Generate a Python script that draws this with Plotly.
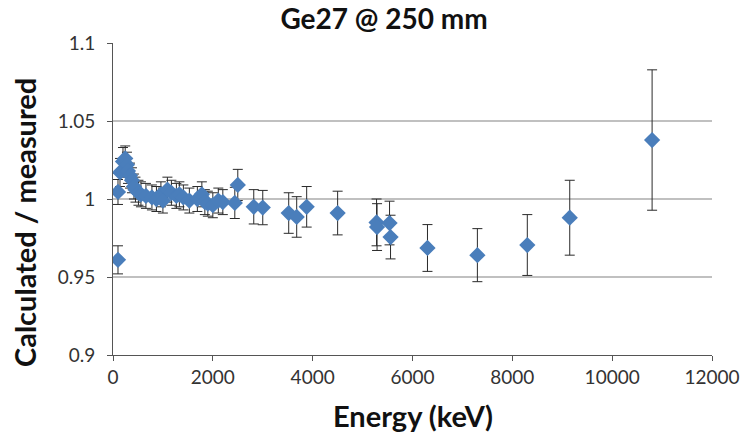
import plotly.graph_objects as go

energy_kev = [100, 100, 140, 200, 245, 280, 300, 340, 380, 420, 450, 510, 560, 660,
              780, 870, 960, 1000, 1090, 1170, 1270, 1330, 1410, 1530, 1690, 1780,
              1840, 1900, 2000, 2110, 2200, 2440, 2500, 2820, 3000, 3520, 3680, 3880,
              4500, 5280, 5290, 5540, 5560, 6300, 7300, 8300, 9150, 10800]
ratio = [0.961, 1.0045, 1.017, 1.024, 1.026, 1.022, 1.018, 1.015, 1.012, 1.008, 1.006,
         1.004, 1.003, 1.002, 1.001, 1.000, 1.003, 0.999, 1.006, 1.004, 1.002, 1.003,
         1.001, 0.999, 1.000, 1.003, 0.998, 0.997, 0.996, 0.999, 0.998, 0.9975, 1.009,
         0.995, 0.9945, 0.991, 0.9885, 0.995, 0.991, 0.985, 0.982, 0.9846, 0.9756,
         0.9686, 0.964, 0.9705, 0.988, 1.0378]
ratio_err = [0.009, 0.008, 0.009, 0.009, 0.008, 0.008, 0.008, 0.008, 0.008, 0.008, 0.008,
             0.008, 0.008, 0.008, 0.008, 0.008, 0.008, 0.008, 0.008, 0.008, 0.008, 0.008,
             0.008, 0.008, 0.008, 0.008, 0.008, 0.008, 0.008, 0.008, 0.008, 0.010, 0.010,
             0.011, 0.011, 0.013, 0.013, 0.013, 0.014, 0.015, 0.015, 0.014, 0.014,
             0.015, 0.017, 0.0195, 0.024, 0.045]

x_ticks = [0, 2000, 4000, 6000, 8000, 10000, 12000]
x_tick_text = ["0", "2000", "4000", "6000", "8000", "10000", "12000"]
y_ticks = [0.9, 0.95, 1.0, 1.05, 1.1]
y_tick_text = ["0.9", "0.95", "1", "1.05", "1.1"]

W, H = 746, 437
fig = go.Figure()
fig.add_trace(go.Scatter(
    x=energy_kev, y=ratio, mode="markers",
    marker=dict(symbol="diamond", size=12.5, color="#4a7ebb", line=dict(width=0)),
    error_y=dict(type="data", array=ratio_err, visible=True, color="#2a2a2a",
                 thickness=1, width=5),
    showlegend=False,
))

font_family = "Lato, 'Open Sans', sans-serif"
fig.update_layout(
    width=W, height=H,
    margin=dict(l=113, r=34, t=43, b=82),
    paper_bgcolor="white", plot_bgcolor="white",
    title=dict(text="<b>Ge27 @ 250 mm</b>", x=384 / W, xanchor="center",
               y=1 - 19 / H, yanchor="middle",
               font=dict(family=font_family, size=28, color="#111111")),
    font=dict(family=font_family, color="#333333"),
    xaxis=dict(range=[0, 12000], tickvals=x_ticks, ticktext=x_tick_text, showgrid=False,
               showline=True, linecolor="#555555", linewidth=1,
               ticks="outside", ticklen=5, tickcolor="#555555",
               tickfont=dict(size=19, color="#333333"),
               automargin=False, zeroline=False),
    yaxis=dict(range=[0.9, 1.1], tickvals=y_ticks, ticktext=y_tick_text,
               showgrid=True, gridcolor="#c0c0c0", gridwidth=1.5,
               showline=True, linecolor="#555555", linewidth=1,
               ticks="outside", ticklen=5, tickcolor="#555555",
               tickfont=dict(size=19, color="#333333"),
               ticklabelstandoff=8, automargin=False, zeroline=False),
    annotations=[
        dict(text="<b>Energy (keV)</b>", xref="paper", yref="paper",
             x=0.5, y=-(415 - (H - 82)) / (H - 43 - 82), xanchor="center", yanchor="middle",
             showarrow=False, font=dict(family=font_family, size=29, color="#111111")),
        dict(text="<b>Calculated / measured</b>", xref="paper", yref="paper",
             x=(25 - 113) / (W - 113 - 34), y=1 - (223 - 43) / (H - 43 - 82),
             xanchor="center", yanchor="middle", textangle=-90,
             showarrow=False, font=dict(family=font_family, size=29, color="#111111")),
    ],
)

fig.write_html("out.html")
